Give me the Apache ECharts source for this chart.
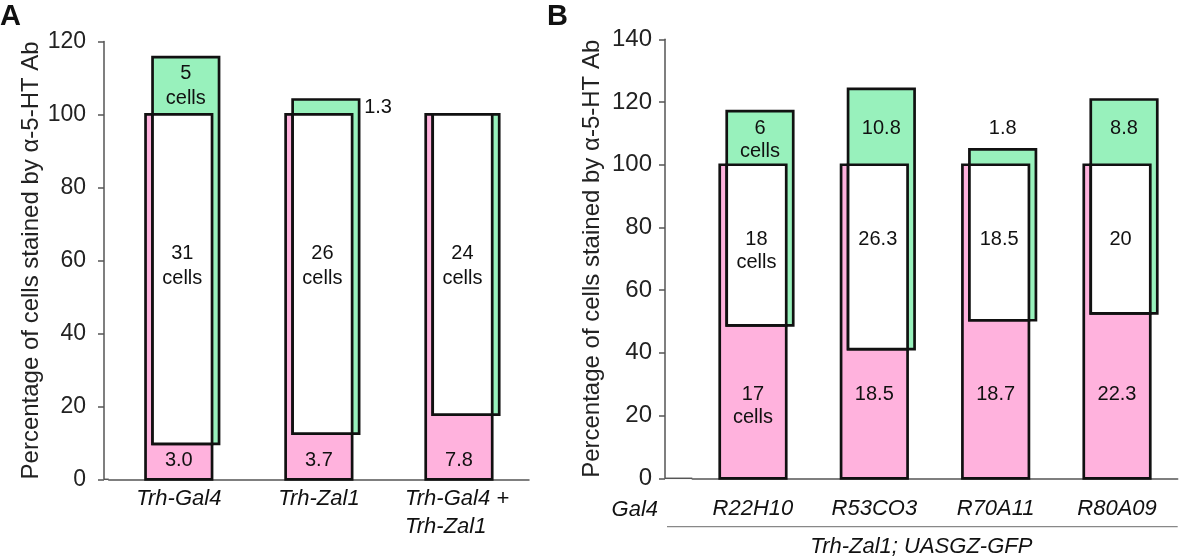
<!DOCTYPE html>
<html><head><meta charset="utf-8">
<script src="https://cdn.jsdelivr.net/npm/echarts@6/dist/echarts.min.js"></script>
<style>html,body{margin:0;padding:0;background:#fff}#c{width:1181px;height:560px}</style>
</head><body><div id="c"></div>
<script>
// ---------- DATA ----------
// Panel A
const catsA = ['Trh-Gal4', 'Trh-Zal1', 'Trh-Gal4 +\nTrh-Zal1'];
const pinkLowA = [0, 0, 0];
const pinkHighA = [100, 100, 100];
const greenLowA = [9.7, 12.5, 17.7];
const greenHighA = [115.7, 104.1, 100];
const greenLabelA = ['5\ncells', '1.3', ''];
const whiteLabelA = ['31\ncells', '26\ncells', '24\ncells'];
const pinkLabelA = ['3.0', '3.7', '7.8'];
// Panel B
const catsB = ['R22H10', 'R53CO3', 'R70A11', 'R80A09'];
const pinkLowB = [0, 0, 0, 0];
const pinkHighB = [100, 100, 100, 100];
const greenLowB = [48.8, 41.2, 50.4, 52.6];
const greenHighB = [117.1, 124.2, 104.9, 120.8];
const greenLabelB = ['6\ncells', '10.8', '1.8', '8.8'];
const whiteLabelB = ['18\ncells', '26.3', '18.5', '20'];
const pinkLabelB = ['17\ncells', '18.5', '18.7', '22.3'];
// Axis ticks
const yTicksA = [0, 20, 40, 60, 80, 100, 120];
const yTicksB = [0, 20, 40, 60, 80, 100, 120, 140];
const yName = 'Percentage of cells stained by α-5-HT Ab';
const gal4Label = 'Gal4';
const groupLabelB = 'Trh-Zal1; UASGZ-GFP';

// ---------- STYLE / LAYOUT ----------
const PINK = '#ffb2dd';
const GREEN = '#98f1bc';
const EDGE = '#111';
const FONT = '"Liberation Sans", Arial, Helvetica, sans-serif';
const LA = {left: 108.75, top: 41.5, width: 420.25, height: 437.8, yOffset: 4.75};
const LB = {left: 692.3, top: 39.3, width: 485.4, height: 439, yOffset: 27.3};
const BAR_W = 66.5, SHIFT = 7;

function rows(low, high, gl, gh) {
  return low.map((v, i) => [i, v, high[i], gl[i], gh[i]]);
}

function makeRender(labels, rowCfg) {
  return function (params, api) {
    const i = api.value(0);
    const pLow = api.value(1), pHigh = api.value(2), gLow = api.value(3), gHigh = api.value(4);
    const cx = api.coord([i, 0])[0];
    const Y = v => api.coord([i, v])[1];
    const pL = cx - BAR_W / 2, pR = cx + BAR_W / 2;
    const gL = pL + SHIFT, gR = pR + SHIFT;
    const border = {stroke: EDGE, lineWidth: 2.7};
    const ch = [];
    ch.push({type: 'rect', shape: {x: pL, y: Y(pHigh), width: BAR_W, height: Y(pLow) - Y(pHigh)}, style: Object.assign({fill: PINK}, border)});
    ch.push({type: 'rect', shape: {x: gL, y: Y(gHigh), width: BAR_W, height: Y(gLow) - Y(gHigh)}, style: Object.assign({fill: GREEN}, border)});
    const iLow = Math.max(pLow, gLow), iHigh = Math.min(pHigh, gHigh);
    ch.push({type: 'rect', shape: {x: gL, y: Y(iHigh), width: pR - gL, height: Y(iLow) - Y(iHigh)}, style: Object.assign({fill: '#fff'}, border)});
    const idx = params.dataIndex;
    const txt = (text, x, y, align, va) => ({
      type: 'text', z2: 10,
      style: {text: text, x: x, y: y, align: align, verticalAlign: va, fill: '#111',
        font: '20px ' + FONT, lineHeight: rowCfg.lh}
    });
    const g = labels.green[idx], w = labels.white[idx], p = labels.pink[idx];
    if (g) {
      if (rowCfg.smallRight && (gHigh - pHigh) < 8) {
        ch.push(txt(g, gR + 5, Y((pHigh + gHigh) / 2), 'left', 'middle'));
      } else {
        ch.push(txt(g, (gL + gR) / 2, Y(rowCfg.green) - rowCfg.lh / 2, 'center', 'top'));
      }
    }
    if (w) ch.push(txt(w, (gL + pR) / 2, Y(rowCfg.white) - rowCfg.lh / 2, 'center', 'top'));
    if (p) ch.push(txt(p, cx, Y(rowCfg.pink) - rowCfg.lh / 2, 'center', 'top'));
    return {type: 'group', children: ch};
  };
}

const axisLineStyle = {color: '#555', width: 1.5};

function yAxisCfg(grid, ticks, L, margin, fs, gap) {
  return {
    type: 'value', gridIndex: grid, min: ticks[0], max: ticks[ticks.length - 1],
    interval: ticks[1] - ticks[0], offset: L.yOffset,
    axisLine: {show: true, lineStyle: axisLineStyle},
    axisTick: {show: true, length: 6, lineStyle: axisLineStyle},
    splitLine: {show: false},
    axisLabel: {fontSize: fs, color: '#222', margin: margin, fontFamily: FONT},
    name: yName, nameLocation: 'middle', nameGap: gap,
    nameTextStyle: {fontSize: 24, color: '#222', fontFamily: FONT}
  };
}

const chart = echarts.init(document.getElementById('c'), null, {renderer: 'canvas'});
const botA = LA.top + LA.height, botB = LB.top + LB.height;
chart.setOption({
  animation: false,
  backgroundColor: '#fff',
  grid: [
    {left: LA.left, top: LA.top, width: LA.width, height: LA.height},
    {left: LB.left, top: LB.top, width: LB.width, height: LB.height}
  ],
  xAxis: [
    {type: 'category', gridIndex: 0, data: catsA,
      axisLine: {lineStyle: axisLineStyle}, axisTick: {show: false},
      axisLabel: {interval: 0, margin: 6, fontSize: 22, fontStyle: 'italic', color: '#111', fontFamily: FONT, lineHeight: 28,
        formatter: v => v.indexOf('\n') >= 0 ? v.split('\n').map(s => '{l|' + s + '}').join('\n') : v,
        rich: {l: {width: 108, align: 'left', fontSize: 22, fontStyle: 'italic', color: '#111', fontFamily: FONT, lineHeight: 28}}}},
    {type: 'category', gridIndex: 1, data: catsB,
      axisLine: {lineStyle: axisLineStyle}, axisTick: {show: false},
      axisLabel: {interval: 0, margin: 20, fontSize: 22, fontStyle: 'italic', color: '#111', fontFamily: FONT, lineHeight: 22}}
  ],
  yAxis: [
    yAxisCfg(0, yTicksA, LA, 18, 23, 61),
    yAxisCfg(1, yTicksB, LB, 13, 24, 61)
  ],
  series: [
    {type: 'custom', xAxisIndex: 0, yAxisIndex: 0, clip: false,
      encode: {x: 0, y: [1, 2, 3, 4]},
      data: rows(pinkLowA, pinkHighA, greenLowA, greenHighA),
      renderItem: makeRender({green: greenLabelA, white: whiteLabelA, pink: pinkLabelA},
        {green: 111.3, white: 61.9, pink: 5.2, lh: 25, smallRight: true})},
    {type: 'custom', xAxisIndex: 1, yAxisIndex: 1, clip: false,
      encode: {x: 0, y: [1, 2, 3, 4]},
      data: rows(pinkLowB, pinkHighB, greenLowB, greenHighB),
      renderItem: makeRender({green: greenLabelB, white: whiteLabelB, pink: pinkLabelB},
        {green: 111.7, white: 76.1, pink: 26.6, lh: 23, smallRight: false})}
  ],
  graphic: [
    {type: 'line', shape: {x1: LA.left - LA.yOffset, y1: botA, x2: LA.left, y2: botA}, style: {stroke: '#555', lineWidth: 1.5}},
    {type: 'line', shape: {x1: LB.left - LB.yOffset, y1: botB, x2: LB.left, y2: botB}, style: {stroke: '#555', lineWidth: 1.5}},
    {type: 'text', left: 0, top: 2, style: {text: 'A', font: 'bold 29px ' + FONT, fill: '#111'}},
    {type: 'text', left: 547, top: 2, style: {text: 'B', font: 'bold 29px ' + FONT, fill: '#111'}},
    {type: 'text', style: {text: gal4Label, x: 658, y: botB + 31.5, align: 'right', verticalAlign: 'middle', font: 'italic 22px ' + FONT, fill: '#111'}},
    {type: 'line', shape: {x1: LB.left - LB.yOffset + 2, y1: 526.7, x2: LB.left + LB.width, y2: 526.7}, style: {stroke: '#888', lineWidth: 1.3}},
    {type: 'text', style: {text: groupLabelB, x: (LB.left - LB.yOffset + LB.left + LB.width) / 2, y: 546.7, align: 'center', verticalAlign: 'middle', font: 'italic 22px ' + FONT, fill: '#111'}}
  ]
});
</script></body></html>
